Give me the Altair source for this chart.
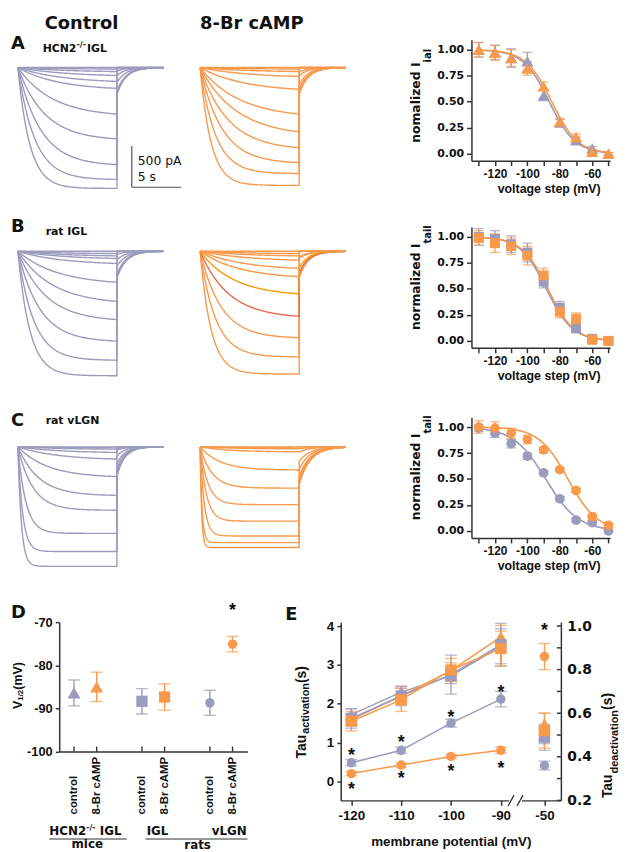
import altair as alt
import numpy as np
import pandas as pd

PURPLE = "#9B9BBE"
ORANGE = "#F8994C"
AMBER = "#F39A05"
RED = "#EE6652"
AX = "#333333"
TXT = "#111111"
SANS = "Liberation Sans"
DJ = "DejaVu Sans"
DUMMY = pd.DataFrame({"d": [0]})

# ---------------------------------------------------------------- data
# current traces: voltage steps, steady-state amplitude at end of step (pA),
# activation time constants (s)
STEPS = [-130, -120, -110, -100, -90, -80, -70, -60, -50, -40, -30]
A_ctrl_amp = [1464, 1356, 1176, 864, 564, 252, 168, 96, 48, 18, 0]
A_camp_amp = [1428, 1284, 1152, 972, 780, 564, 264, 108, 48, 18, 0]
B_ctrl_amp = [1508, 1320, 1088, 828, 608, 376, 148, 88, 56, 28, 0]
B_camp_amp = [1488, 1280, 1048, 788, 516, 308, 208, 108, 56, 28, 0]
C_ctrl_amp = [1448, 1268, 1048, 768, 588, 360, 148, 68, 28, 12, 0]
C_camp_amp = [1220, 1160, 1080, 900, 700, 500, 280, 60, 24, 12, 0]
A_ctrl_tau = [1.2, 1.7, 2.3, 2.7, 3.5, 4.0, 4.5, 5, 5, 5, 5]
A_camp_tau = [1.1, 1.55, 2.2, 2.85, 3.7, 4.0, 4.5, 5, 5, 5, 5]
B_ctrl_tau = [1.2, 1.6, 2.2, 2.8, 3.5, 4.0, 4.5, 5, 5, 5, 5]
B_camp_tau = [1.1, 1.55, 2.1, 2.87, 3.4, 4.0, 4.5, 5, 5, 5, 5]
C_ctrl_tau = [0.35, 0.48, 0.8, 1.5, 2.1, 3.0, 4.0, 4.5, 5, 5, 5]
C_camp_tau = [0.15, 0.2, 0.42, 0.63, 0.8, 1.2, 2.0, 3.0, 4.0, 5, 5]
TAIL_MAX_pA = [324, 324, 324, 324, 360, 456]
TAIL_TAU_s = [0.9, 0.9, 0.9, 0.9, 0.8, 1.1]

# normalized tail currents
VOLT = [-130, -120, -110, -100, -90, -80, -70, -60, -50]
A_ctrl_n = [1.00, 0.975, 0.92, 0.89, 0.56, 0.30, 0.13, 0.05, 0.00]
A_ctrl_e = [0.07, 0.07, 0.09, 0.085, 0.05, 0.03, 0.03, 0.02, 0.01]
A_camp_n = [1.00, 0.97, 0.92, 0.82, 0.65, 0.31, 0.16, 0.02, 0.00]
A_camp_e = [0.07, 0.07, 0.08, 0.065, 0.04, 0.03, 0.03, 0.02, 0.01]
B_ctrl_n = [1.00, 0.98, 0.93, 0.85, 0.57, 0.32, 0.12, 0.02, 0.00]
B_ctrl_e = [0.08, 0.08, 0.08, 0.09, 0.06, 0.06, 0.03, 0.02, 0.01]
B_camp_n = [0.99, 0.94, 0.91, 0.82, 0.63, 0.28, 0.21, 0.01, 0.00]
B_camp_e = [0.07, 0.09, 0.08, 0.09, 0.07, 0.06, 0.06, 0.02, 0.01]
C_ctrl_n = [0.99, 0.94, 0.84, 0.72, 0.56, 0.31, 0.105, 0.08, 0.00]
C_ctrl_e = [0.03, 0.04, 0.04, 0.03, 0.02, 0.02, 0.02, 0.02, 0.01]
C_camp_n = [1.00, 0.99, 0.94, 0.88, 0.78, 0.59, 0.39, 0.14, 0.055]
C_camp_e = [0.06, 0.06, 0.05, 0.04, 0.03, 0.02, 0.02, 0.02, 0.02]
# Boltzmann fits (V1/2 mV, slope mV)
FIT_A = [(-86.5, 8.0), (-85.0, 8.0)]
FIT_B = [(-88.3, 8.0), (-87.4, 8.0)]
FIT_C = [(-88.7, 10.0), (-75.0, 9.0)]

# panel D : V1/2
D_CATS = ["HCN2 control", "HCN2 8-Br", "gap1", "IGL control", "IGL 8-Br",
          "gap2", "vLGN control", "vLGN 8-Br"]
D_REAL = ["HCN2 control", "HCN2 8-Br", "IGL control", "IGL 8-Br",
          "vLGN control", "vLGN 8-Br"]
D_V12 = [-86.4, -85.0, -88.35, -87.35, -88.7, -75.1]
D_ERR = [3.0, 3.4, 2.95, 3.05, 2.9, 1.8]
D_COND = ["control", "8-Br cAMP"] * 3
D_SHAPE = ["triangle", "triangle", "square", "square", "circle", "circle"]

# panel E : time constants
E_V = [-120, -110, -100, -90]
E_NAMES = ["HCN2 control", "HCN2 8-Br", "IGL control", "IGL 8-Br",
           "vLGN control", "vLGN 8-Br"]
E_COND = ["control", "8-Br cAMP"] * 3
E_SHAPE = D_SHAPE
E_ACT = [[1.72, 2.30, 2.72, 3.48],
         [1.60, 2.20, 2.85, 3.72],
         [1.62, 2.20, 2.75, 3.52],
         [1.55, 2.10, 2.87, 3.42],
         [0.48, 0.80, 1.50, 2.12],
         [0.20, 0.42, 0.64, 0.80]]
E_ACT_ERR = [[0.15, 0.15, 0.20, 0.45],
             [0.15, 0.20, 0.20, 0.30],
             [0.25, 0.25, 0.50, 0.55],
             [0.25, 0.30, 0.30, 0.45],
             [0.08, 0.08, 0.10, 0.20],
             [0.05, 0.05, 0.05, 0.08]]
E_DEACT = [0.50, 0.55, 0.49, 0.52, 0.36, 0.86]   # at -50 mV, right axis
E_DEACT_ERR = [0.04, 0.05, 0.06, 0.08, 0.02, 0.06]
E_STARS_CTRL = [0.75, 1.10, 1.74, 2.38]
E_STARS_CAMP = [-0.13, 0.17, 0.34, 0.43]
X50 = -81.26       # position of the -50 mV column after the axis break

# ---------------------------------------------------------------- helpers
AB = {' ': 278, '(': 333, ')': 333, '/': 278, '-': 333, '.': 278, 'A': 722,
      'B': 722, 'C': 722, 'D': 722, 'E': 667, 'G': 778, 'H': 722, 'I': 278,
      'L': 611, 'M': 833, 'N': 722, 'P': 667, 'T': 611, 'V': 667, 'a': 556,
      'b': 611, 'c': 556, 'd': 611, 'e': 556, 'g': 611, 'i': 278, 'l': 278,
      'm': 889, 'n': 611, 'o': 611, 'p': 611, 'r': 389, 's': 556, 't': 333,
      'u': 611, 'v': 556, 'z': 500}
DJW = {' ': 348, '-': 415, '/': 365, 'H': 837, 'C': 734, 'N': 837, '2': 696,
       'I': 372, 'G': 821, 'L': 637, 'n': 712, 'o': 687, 'r': 493, 'm': 1042,
       'a': 675, 'l': 343, 'i': 343, 'z': 582, 'e': 678, 'd': 716, 't': 478}


def wab(s, size):
    return sum(AB.get(ch, 556) for ch in s) * size / 1000.0


def wdj(s, size):
    return sum(DJW.get(ch, 650) for ch in s) * size / 1000.0


def txt(s, x, y, size=12, font=SANS, weight="bold", angle=0, align="left",
        baseline="alphabetic", color=TXT):
    return alt.Chart(DUMMY).mark_text(
        text=s, fontSize=size, font=font, fontWeight=weight, angle=angle,
        align=align, baseline=baseline, color=color
    ).encode(x=alt.value(x), y=alt.value(y))


def hline(x1, x2, y, color=AX, w=1.2):
    return alt.Chart(DUMMY).mark_rule(color=color, strokeWidth=w).encode(
        x=alt.value(x1), x2=alt.value(x2), y=alt.value(y))


def spacer(w, h):
    return alt.Chart(DUMMY).mark_point(opacity=0).encode(
        x=alt.value(0), y=alt.value(0)).properties(width=w, height=h)


T_ACT = np.concatenate([np.linspace(0, 2, 41), np.linspace(2.1, 10, 80)])
T_TAIL = np.linspace(10, 14.7, 48)


def trace_df(amps, taus, ntail, tmax, ttau, base, special=None):
    recs = []
    special = special or {}
    for k, (a, tau) in enumerate(zip(amps, taus)):
        nt = ntail[k] if k < len(ntail) else 0.0
        act = -a * (1 - np.exp(-T_ACT / tau)) / (1 - np.exp(-10 / tau))
        tail = -tmax * nt * np.exp(-(T_TAIL - 10) / ttau)
        t = np.concatenate([T_ACT, T_TAIL])
        cur = np.concatenate([act, tail])
        col = special.get(k, base)
        for i, (tt, ii) in enumerate(zip(t, cur)):
            recs.append((k, i, round(float(tt), 3), round(float(ii), 1), col))
    return pd.DataFrame(recs, columns=["trace", "idx", "t", "I", "col"])


TRACE_COLORS = alt.Scale(domain=["ctrl", "camp", "amber", "red"],
                         range=[PURPLE, ORANGE, AMBER, RED])


def trace_panel(df, width, xmax, ydom, height, extra=()):
    line = alt.Chart(df).mark_line(strokeWidth=1.4, strokeJoin="round").encode(
        x=alt.X("t:Q", scale=alt.Scale(domain=[-0.7, xmax], nice=False, zero=False), axis=None),
        y=alt.Y("I:Q", scale=alt.Scale(domain=ydom, nice=False, zero=False), axis=None),
        detail="trace:N",
        order="idx:Q",
        color=alt.Color("col:N", scale=TRACE_COLORS, legend=None),
    )
    return alt.layer(line, *extra).properties(width=width, height=height)


COND_SCALE = alt.Scale(domain=["control", "8-Br cAMP"], range=[PURPLE, ORANGE])
SHAPE_SCALE = alt.Scale(domain=["triangle", "square", "circle"],
                        range=["triangle-up", "square", "circle"])


def ss_panel(cn, ce, bn, be, fits, shape, size, main, sub):
    df = pd.DataFrame({"V": VOLT * 2, "y": cn + bn, "e": ce + be,
                       "cond": ["control"] * 9 + ["8-Br cAMP"] * 9})
    df["lo"] = df.y - df.e
    df["hi"] = df.y + df.e
    vg = np.linspace(-130, -50, 81)
    fy = [1 / (1 + np.exp((vg - v12) / k)) for v12, k in fits]
    fit = pd.DataFrame({"V": np.concatenate([vg, vg]), "y": np.concatenate(fy),
                        "cond": ["control"] * 81 + ["8-Br cAMP"] * 81})
    xax = alt.Axis(values=VOLT, labelExpr="datum.value % 20 == 0 ? '' + datum.value : ''",
                   tickSize=5, labelPadding=3, labelFontSize=12, title="voltage step (mV)",
                   titleFontSize=12.5, titlePadding=3, titleX=78)
    yax = alt.Axis(values=[0, 0.25, 0.5, 0.75, 1.0], format=".2f", tickSize=5,
                   labelPadding=3, labelFont=DJ, labelFontSize=11, title=None)
    xs = alt.Scale(domain=[-134.5, -49], nice=False, zero=False)
    ys = alt.Scale(domain=[-0.0667, 1.0952], nice=False, zero=False)
    X = alt.X("V:Q", scale=xs, axis=xax)

    def Y(f):
        return alt.Y(f + ":Q", scale=ys, axis=yax)
    C = alt.Color("cond:N", scale=COND_SCALE, legend=None)
    lines = alt.Chart(fit).mark_line(strokeWidth=1.6).encode(X, Y("y"), C, detail="cond:N")
    bars = alt.Chart(df).mark_rule(strokeWidth=1.3).encode(X, Y("lo"), alt.Y2("hi:Q"), C)
    cap1 = alt.Chart(df).mark_tick(orient="horizontal", size=10, thickness=1.3).encode(X, Y("lo"), C)
    cap2 = alt.Chart(df).mark_tick(orient="horizontal", size=10, thickness=1.3).encode(X, Y("hi"), C)
    pts = alt.Chart(df).mark_point(filled=True, opacity=1, shape=shape, size=size).encode(X, Y("y"), C)
    t1 = txt(main, -56.3, 104, size=12.5, font=DJ, angle=270, baseline="middle")
    t2 = txt(sub, -43.5, 104 - wdj(main, 12.5), size=10, font=DJ, angle=270, baseline="middle")
    return alt.layer(lines, bars, cap1, cap2, pts, t1, t2).properties(width=140, height=122)


# ---------------------------------------------------------------- panels A-C
dfs = [
    trace_df(A_ctrl_amp, A_ctrl_tau, A_ctrl_n, TAIL_MAX_pA[0], TAIL_TAU_s[0], "ctrl"),
    trace_df(A_camp_amp, A_camp_tau, A_camp_n, TAIL_MAX_pA[1], TAIL_TAU_s[1], "camp"),
    trace_df(B_ctrl_amp, B_ctrl_tau, B_ctrl_n, TAIL_MAX_pA[2], TAIL_TAU_s[2], "ctrl"),
    trace_df(B_camp_amp, B_camp_tau, B_camp_n, TAIL_MAX_pA[3], TAIL_TAU_s[3], "camp",
             special={3: "red", 4: "amber"}),
    trace_df(C_ctrl_amp, C_ctrl_tau, C_ctrl_n, TAIL_MAX_pA[4], TAIL_TAU_s[4], "ctrl"),
    trace_df(C_camp_amp, C_camp_tau, C_camp_n, TAIL_MAX_pA[5], TAIL_TAU_s[5], "camp"),
]

# scale bar (500 pA, 5 s)
SB_T0, SB_I0, SB_PA, SB_S = 11.5, -1450, 500, 5
sb_v = alt.Chart(DUMMY).mark_rule(color="#555", strokeWidth=1.2).encode(
    x=alt.datum(SB_T0), y=alt.datum(SB_I0), y2=alt.datum(SB_I0 + SB_PA))
sb_h = alt.Chart(DUMMY).mark_rule(color="#555", strokeWidth=1.2).encode(
    x=alt.datum(SB_T0), x2=alt.datum(SB_T0 + SB_S), y=alt.datum(SB_I0))
sb_t1 = alt.Chart(DUMMY).mark_text(text="500 pA", font=DJ, fontSize=12.5, align="left",
                                   baseline="middle", color=TXT).encode(
    x=alt.datum(SB_T0 + 0.6), y=alt.datum(SB_I0 + 322))
sb_t2 = alt.Chart(DUMMY).mark_text(text="5 s", font=DJ, fontSize=12.5, align="left",
                                   baseline="middle", color=TXT).encode(
    x=alt.datum(SB_T0 + 0.6), y=alt.datum(SB_I0 + 118))

hx = 32
labA = [txt("A", 0, 9, size=18, font=DJ),
        txt("HCN2", hx, 12, size=11, font=DJ),
        txt("-/-", hx + wdj("HCN2", 11), 7, size=8, font=DJ),
        txt("IGL", hx + wdj("HCN2", 11) + wdj("-/-", 8) + 1, 12, size=11, font=DJ)]
labB = [txt("B", 0, 5.5, size=18, font=DJ), txt("rat IGL", 35, 8.5, size=11, font=DJ)]
labC = [txt("C", 0, 8.7, size=18, font=DJ), txt("rat vLGN", 35, 7, size=11, font=DJ)]

ctrlA = trace_panel(dfs[0], 184, 17.7, [-1926, 336], 188.5, extra=[sb_v, sb_h, sb_t1, sb_t2] + labA)
campA = trace_panel(dfs[1], 281, 27.4, [-1926, 336], 188.5)
ctrlB = trace_panel(dfs[2], 184, 17.7, [-2004, 294], 191.5, extra=labB)
campB = trace_panel(dfs[3], 281, 27.4, [-2004, 294], 191.5)
ctrlC = trace_panel(dfs[4], 184, 17.7, [-2115.6, 360], 206.3, extra=labC)
campC = trace_panel(dfs[5], 281, 27.4, [-2115.6, 360], 206.3)

ssA = ss_panel(A_ctrl_n, A_ctrl_e, A_camp_n, A_camp_e, FIT_A, "triangle-up", 150, "nomalized I", "ial")
ssB = ss_panel(B_ctrl_n, B_ctrl_e, B_camp_n, B_camp_e, FIT_B, "square", 100, "normalized I", "tail")
ssC = ss_panel(C_ctrl_n, C_ctrl_e, C_camp_n, C_camp_e, FIT_C, "circle", 95, "normalized I", "tail")

head1 = alt.layer(spacer(184, 25), txt("Control", 34, 0, size=18, font=DJ, baseline="top")).properties(
    width=184, height=25)
head2 = alt.layer(spacer(281, 25), txt("8-Br cAMP", 7, 0, size=18, font=DJ, baseline="top")).properties(
    width=281, height=25)

# ---------------------------------------------------------------- panel D (cell x 0..184)
DOX = 48.7          # plot-area offset of panel D inside its cell
dD = pd.DataFrame({"cat": D_REAL, "v": D_V12, "e": D_ERR, "cond": D_COND, "shape": D_SHAPE})
dD["lo"] = dD.v - dD.e
dD["hi"] = dD.v + dD.e
DX = alt.X("cat:N", scale=alt.Scale(type="point", domain=D_CATS, padding=0.654, range=[DOX, DOX + 190]),
           axis=alt.Axis(values=D_REAL, labelAngle=270, labelAlign="left", labelBaseline="middle",
                         labelPadding=63, ticks=False, tickSize=0, title=None,
                         labelFontSize=11.5, labelOverlap=False,
                         labelExpr="indexof(datum.value, 'control') >= 0 ? 'control' : '8-Br cAMP'"))
D_YVALS = [float(v) for v in np.arange(-100, -69.9, 2.5)]
dys = alt.Scale(domain=[-100, -70], nice=False, zero=False)
dyax = alt.Axis(values=D_YVALS, labelExpr="datum.value % 10 == 0 ? '' + datum.value : ''",
                tickSize=4, labelPadding=3, labelFontSize=13, title=None, offset=-DOX)


def DY(f):
    return alt.Y(f + ":Q", scale=dys, axis=dyax)


DC = alt.Color("cond:N", scale=COND_SCALE, legend=None)
d_bars = alt.Chart(dD).mark_rule(strokeWidth=1.4).encode(DX, DY("lo"), alt.Y2("hi:Q"), DC)
d_c1 = alt.Chart(dD).mark_tick(orient="horizontal", size=12, thickness=1.4).encode(DX, DY("lo"), DC)
d_c2 = alt.Chart(dD).mark_tick(orient="horizontal", size=12, thickness=1.4).encode(DX, DY("hi"), DC)
d_pts = alt.Chart(dD).mark_point(filled=True, opacity=1).encode(
    DX, DY("v"), DC,
    alt.Shape("shape:N", scale=SHAPE_SCALE, legend=None),
    alt.Size("shape:N", scale=alt.Scale(domain=["triangle", "square", "circle"], range=[170, 90, 140]),
             legend=None))
d_ticks = alt.Chart(dD).mark_rule(color=AX, strokeWidth=1.4).encode(
    DX, y=alt.datum(-100), y2=alt.datum(-98.85))
d_star = alt.Chart(DUMMY).mark_text(text="*", font=SANS, fontWeight="bold", fontSize=18,
                                    color=TXT, dy=1).encode(
    x=alt.datum("vLGN 8-Br"), y=alt.datum(-67.2))
vx = DOX - 41.7
d_title = [
    txt("D", 0, -4.3, size=18, font=DJ),
    txt("V", vx, 87.7, size=12.5, angle=270, baseline="middle"),
    txt("1/2", vx + 3.5, 87.7 - wab("V", 12.5), size=8, angle=270, baseline="middle"),
    txt(" (mV)", vx, 87.7 - wab("V", 12.5) - wab("1/2", 8), size=12.5, angle=270, baseline="middle"),
]
g1 = DOX - 10
d_groups = [
    txt("HCN2", g1, 214.7, size=12, font=DJ),
    txt("-/-", g1 + wdj("HCN2", 12), 209.7, size=8, font=DJ),
    txt("IGL", g1 + wdj("HCN2", 12) + wdj("-/-", 8) + wdj(" ", 12), 214.7, size=12, font=DJ),
    hline(DOX - 10, DOX + 68.3, 219),
    txt("mice", DOX + 28.3, 228.5, size=12, font=DJ, align="center"),
    txt("IGL", DOX + 88.3, 214.7, size=12, font=DJ),
    txt("vLGN", DOX + 189.3, 214.7, size=12, font=DJ, align="right"),
    hline(DOX + 87.3, DOX + 190, 219),
    txt("rats", DOX + 139.8, 229, size=12, font=DJ, align="center"),
]
panelD = alt.layer(d_bars, d_c1, d_c2, d_ticks, d_pts, d_star, *d_title, *d_groups).properties(
    width=184, height=130.7)

# ---------------------------------------------------------------- panel E (cell x 184..465)
EOX, EW, ECELL = 149.0, 222.3, 281
recs = []
for n, c, s, vals, errs in zip(E_NAMES, E_COND, E_SHAPE, E_ACT, E_ACT_ERR):
    for v, y, e in zip(E_V, vals, errs):
        recs.append((n, c, s, v, y, y - e, y + e))
dE = pd.DataFrame(recs, columns=["series", "cond", "shape", "xp", "y", "lo", "hi"])
dR = pd.DataFrame({"series": E_NAMES, "cond": E_COND, "shape": E_SHAPE,
                   "xp": [X50] * 6, "y": E_DEACT})
dR["lo"] = dR.y - pd.Series(E_DEACT_ERR)
dR["hi"] = dR.y + pd.Series(E_DEACT_ERR)

exs = alt.Scale(domain=[-122.13, -77.96], nice=False, zero=False, range=[EOX, EOX + EW])
exax = alt.Axis(values=[-120, -110, -100, -90, X50],
                labelExpr="datum.value < -85 ? '' + datum.value : '-50'",
                tickSize=5, labelPadding=3, labelFontSize=13.5, title="membrane potential (mV)",
                titleFontSize=13.5, titlePadding=13)
EX = alt.X("xp:Q", scale=exs, axis=exax)
eys = alt.Scale(domain=[-0.49, 4.102], nice=False, zero=False)
eyax = alt.Axis(values=[0, 1, 2, 3, 4], orient="left", tickSize=4, labelPadding=3,
                labelFontSize=13.5, title=None, offset=-EOX)
rys = alt.Scale(domain=[0.2, 1.018], nice=False, zero=False)
R_VALS = [round(0.2 + 0.1 * i, 1) for i in range(9)]
ryax = alt.Axis(values=R_VALS, orient="right", ticks=False, tickSize=0, labelPadding=6,
                labelFont=DJ, labelFontSize=14, title=None, offset=EOX + EW - ECELL,
                labelExpr="round(datum.value * 10) % 2 == 0 ? format(datum.value, '.1f') : ''")


def EY(f):
    return alt.Y(f + ":Q", scale=eys, axis=eyax)


def RY(f):
    return alt.Y(f + ":Q", scale=rys, axis=ryax)


ESH = alt.Shape("shape:N", scale=SHAPE_SCALE, legend=None)
ESZ = alt.Size("shape:N", scale=alt.Scale(domain=["triangle", "square", "circle"], range=[160, 100, 165]),
               legend=None)
e_lines = alt.Chart(dE).mark_line(strokeWidth=1.5).encode(EX, EY("y"), DC, detail="series:N")
e_bars = alt.Chart(dE).mark_rule(strokeWidth=1.3).encode(EX, EY("lo"), alt.Y2("hi:Q"), DC)
e_c1 = alt.Chart(dE).mark_tick(orient="horizontal", size=12, thickness=1.3).encode(EX, EY("lo"), DC)
e_c2 = alt.Chart(dE).mark_tick(orient="horizontal", size=12, thickness=1.3).encode(EX, EY("hi"), DC)
e_pts = alt.Chart(dE).mark_point(filled=True, opacity=1).encode(EX, EY("y"), DC, ESH, ESZ)
dS = pd.DataFrame({"xp": E_V * 2, "y": E_STARS_CTRL + E_STARS_CAMP})
e_stars = alt.Chart(dS).mark_text(text="*", font=SANS, fontWeight="bold", fontSize=18,
                                  color=TXT, dy=4).encode(EX, EY("y"))
e_gap = alt.Chart(DUMMY).mark_rule(color="white", strokeWidth=5).encode(
    x=alt.datum(-88.35), x2=alt.datum(-85.76), y=alt.datum(-0.49))
e_sl1 = alt.Chart(DUMMY).mark_rule(color=AX, strokeWidth=1.3).encode(
    x=alt.datum(-88.55), x2=alt.datum(-87.36), y=alt.datum(-0.635), y2=alt.datum(-0.355))
e_sl2 = alt.Chart(DUMMY).mark_rule(color=AX, strokeWidth=1.3).encode(
    x=alt.datum(-86.75), x2=alt.datum(-85.56), y=alt.datum(-0.635), y2=alt.datum(-0.355))
left_layer = alt.layer(e_lines, e_bars, e_c1, e_c2, e_pts, e_stars, e_gap, e_sl1, e_sl2)

r_bars = alt.Chart(dR).mark_rule(strokeWidth=1.3).encode(EX, RY("lo"), alt.Y2("hi:Q"), DC)
r_c1 = alt.Chart(dR).mark_tick(orient="horizontal", size=12, thickness=1.3).encode(EX, RY("lo"), DC)
r_c2 = alt.Chart(dR).mark_tick(orient="horizontal", size=12, thickness=1.3).encode(EX, RY("hi"), DC)
r_pts = alt.Chart(dR).mark_point(filled=True, opacity=1).encode(EX, RY("y"), DC, ESH, ESZ)
r_star = alt.Chart(DUMMY).mark_text(text="*", font=SANS, fontWeight="bold", fontSize=18,
                                    color=TXT, dy=4).encode(x=alt.datum(X50), y=alt.datum(0.995))
r_tk = alt.Chart(pd.DataFrame({"y": R_VALS})).mark_rule(color=AX, strokeWidth=1.5).encode(
    x=alt.datum(-78.76), x2=alt.datum(-77.96), y=RY("y"))
right_layer = alt.layer(r_bars, r_c1, r_c2, r_pts, r_star, r_tk)

tx = EOX - 39.5
rx = EOX + 270
e_titles = [
    txt("E", EOX - 56, -2.3, size=18, font=DJ),
    txt("Tau", tx, 137.7, size=14, angle=270, baseline="middle"),
    txt("activation", tx + 4.5, 137.7 - wab("Tau", 14), size=11, angle=270, baseline="middle"),
    txt(" (s)", tx, 137.7 - wab("Tau", 14) - wab("activation", 11), size=14, angle=270,
        baseline="middle"),
    txt("Tau", rx, 177.7, size=14, angle=270, baseline="middle"),
    txt("deactivation", rx + 7, 177.7 - wab("Tau", 14), size=11, angle=270, baseline="middle"),
    txt("(s)", rx, 177.7 - wab("Tau", 14) - wab("deactivation", 11), size=14, angle=270,
        baseline="middle"),
]
panelE = alt.layer(left_layer, right_layer, *e_titles).resolve_scale(y="independent").properties(
    width=ECELL, height=180)

# ---------------------------------------------------------------- layout
cells = [head1, head2, spacer(140, 25),
         ctrlA, campA, ssA,
         ctrlB, campB, ssB,
         ctrlC, campC, ssC,
         panelD, panelE, spacer(140, 10)]

chart = alt.concat(*cells, columns=3, spacing=0, bounds="flush",
                   align={"row": "each", "column": "each"}).properties(
    padding=0
).configure_view(stroke=None).configure_axis(
    domainColor=AX, tickColor=AX, domainWidth=1.5, tickWidth=1.5, grid=False,
    labelColor=TXT, titleColor=TXT, labelFont=SANS, labelFontWeight="bold",
    titleFont=SANS, titleFontWeight="bold"
)

chart.save("out.html", embed_options={"renderer": "svg", "actions": False})
